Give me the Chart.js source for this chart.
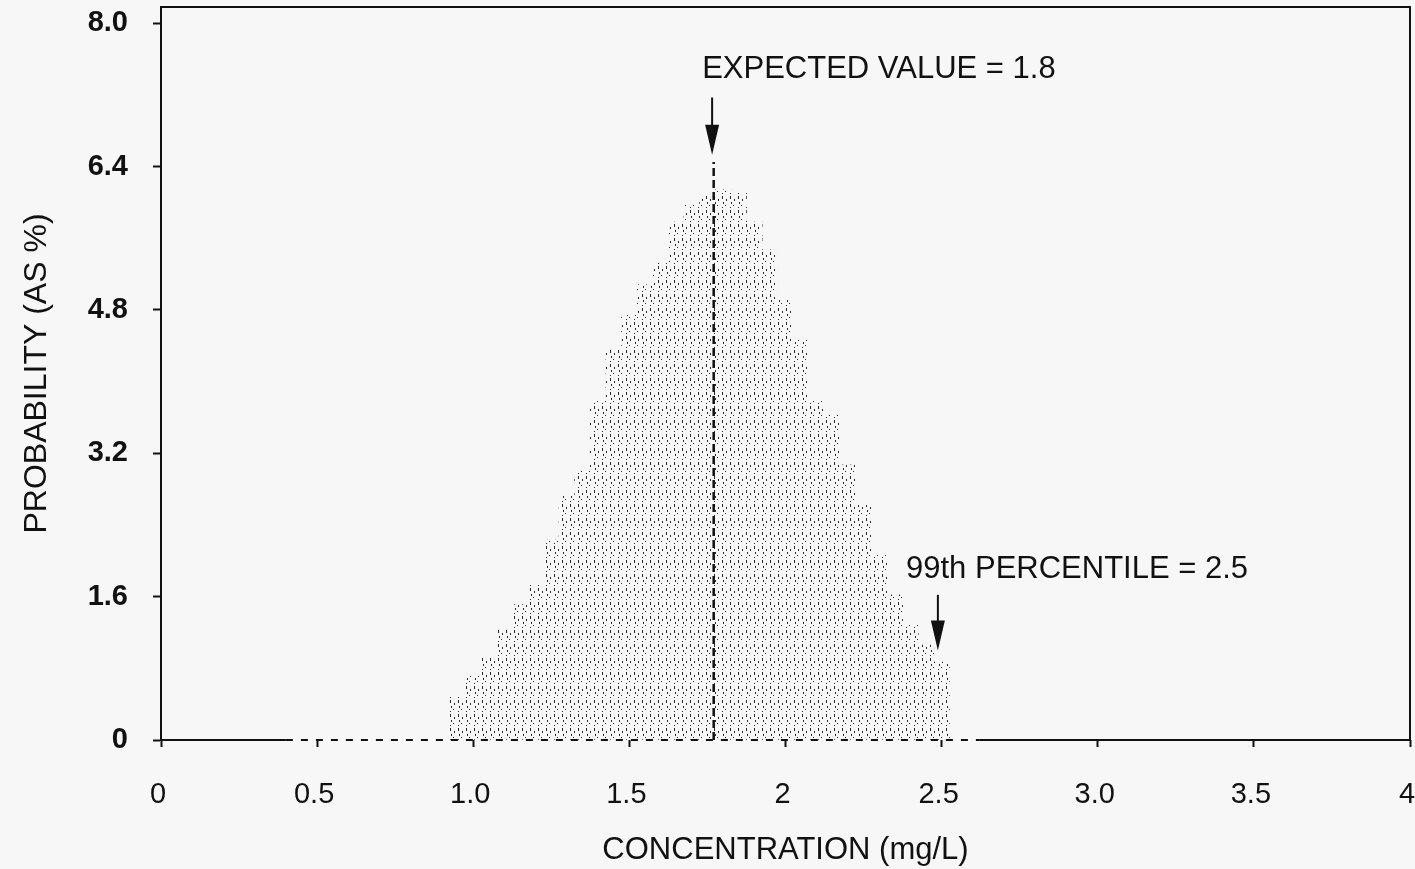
<!DOCTYPE html>
<html><head><meta charset="utf-8">
<script src="https://cdn.jsdelivr.net/npm/chart.js@4.4.1/dist/chart.umd.min.js"></script>
<style>html,body{margin:0;padding:0;background:#f7f7f7;overflow:hidden} #wrap{width:1415px;height:869px;position:relative} canvas{display:block}</style>
</head><body><div id="wrap"><canvas id="c" width="1415" height="869" style="width:1415px;height:869px"></canvas></div>
<script>
// ---- data ----
const concentration = [0.95,1.00,1.05,1.10,1.15,1.20,1.25,1.30,1.35,1.40,1.45,1.50,1.55,1.60,1.65,1.70,1.75,1.80,1.85,1.90,1.95,2.00,2.05,2.10,2.15,2.20,2.25,2.30,2.35,2.40,2.45,2.50];
const probability   = [0.48,0.71,0.92,1.23,1.51,1.73,2.23,2.73,3.01,3.79,4.35,4.74,5.08,5.33,5.78,5.97,6.08,6.14,6.10,5.78,5.47,4.91,4.46,3.79,3.63,3.07,2.62,2.06,1.62,1.28,1.06,0.87];
const yTicks = [0, 1.6, 3.2, 4.8, 6.4, 8.0];
const yTickLabels = ['0', '1.6', '3.2', '4.8', '6.4', '8.0'];
const xTicks = [0, 0.5, 1, 1.5, 2, 2.5, 3, 3.5, 4];
const xTickLabels = ['0', '0.5', '1.0', '1.5', '2', '2.5', '3.0', '3.5', '4'];
const expectedLineX = [1.77, 1.77];
const expectedLineY = [0, 6.45];
const baselineX = [0, 0.40, 2.62, 4];
const baselineY = [0, 0, 0, 0];
const expectedText = 'EXPECTED VALUE = 1.8';
const expectedTextPos = [1.733, 7.48];
const expectedArrow = [1.765, 7.17, 6.53];
const percentileText = '99th PERCENTILE = 2.5';
const percentileTextPos = [2.386, 1.90];
const percentileArrow = [2.488, 1.62, 1.00];

// speckle texture for the histogram columns
function makePattern() {
  const c = document.createElement('canvas');
  c.width = 8; c.height = 14;
  const g = c.getContext('2d');
  g.fillStyle = '#2a2a2a';
  g.fillRect(2, 0, 1, 3);
  g.fillRect(3, 6, 1, 2);
  g.fillRect(2, 11, 1, 1);
  g.fillRect(6, 3, 1, 2);
  g.fillRect(5, 9, 1, 1);
  return g.createPattern(c, 'repeat');
}

const FONT = '"Liberation Sans", Arial, Helvetica, sans-serif';

const annot = {
  id: 'annot',
  afterDatasetsDraw(chart) {
    const {ctx, chartArea: a, scales: {x, y}} = chart;
    ctx.save();
    ctx.strokeStyle = '#111';
    ctx.lineWidth = 2;
    ctx.beginPath();
    ctx.moveTo(a.left, a.top); ctx.lineTo(a.right, a.top); ctx.lineTo(a.right, a.bottom);
    ctx.stroke();
    function arrow(xv, y0, y1, hw, hh) {
      const px = x.getPixelForValue(xv), p0 = y.getPixelForValue(y0), p1 = y.getPixelForValue(y1);
      ctx.beginPath(); ctx.moveTo(px, p0); ctx.lineTo(px, p1 - hh + 2); ctx.stroke();
      ctx.beginPath(); ctx.moveTo(px - hw, p1 - hh); ctx.lineTo(px + hw, p1 - hh); ctx.lineTo(px, p1); ctx.closePath();
      ctx.fillStyle = '#111'; ctx.fill();
    }
    arrow(expectedArrow[0], expectedArrow[1], expectedArrow[2], 7, 30);
    arrow(percentileArrow[0], percentileArrow[1], percentileArrow[2], 7, 30);
    ctx.fillStyle = '#111';
    ctx.font = '31px ' + FONT;
    ctx.textBaseline = 'middle';
    ctx.textAlign = 'left';
    ctx.fillText(expectedText, x.getPixelForValue(expectedTextPos[0]), y.getPixelForValue(expectedTextPos[1]));
    ctx.fillText(percentileText, x.getPixelForValue(percentileTextPos[0]), y.getPixelForValue(percentileTextPos[1]));
    ctx.restore();
  }
};

new Chart(document.getElementById('c'), {
  type: 'bar',
  data: {
    datasets: [
      {
        type: 'bar',
        label: 'probability',
        data: concentration.map((c, i) => ({x: c, y: probability[i]})),
        backgroundColor: makePattern(),
        borderWidth: 0,
        barPercentage: 1,
        categoryPercentage: 1,
        order: 3
      },
      {
        type: 'line',
        label: 'expected',
        data: expectedLineX.map((v, i) => ({x: v, y: expectedLineY[i]})),
        borderColor: '#111', borderWidth: 2.5, borderDash: [8, 4],
        pointRadius: 0, order: 2
      },
      {
        type: 'line',
        label: 'baseline',
        data: baselineX.map((v, i) => ({x: v, y: baselineY[i]})),
        borderColor: '#111', borderWidth: 2, pointRadius: 0, clip: false, order: 1,
        segment: { borderDash: ctx => ctx.p0DataIndex === 1 ? [7, 8] : undefined }
      }
    ]
  },
  options: {
    responsive: false,
    animation: false,
    devicePixelRatio: 1,
    layout: { padding: { top: 7, right: 5, left: 0, bottom: 0 } },
    plugins: { legend: { display: false }, tooltip: { enabled: false } },
    scales: {
      x: {
        type: 'linear', min: 0, max: 4, offset: false,
        afterFit: s => { s.height = 129; s.paddingLeft = 0; s.paddingRight = 0; },
        afterBuildTicks: s => { s.ticks = xTicks.map(v => ({value: v})); },
        ticks: {
          callback: (v) => xTickLabels[xTicks.indexOf(v)],
          color: '#111', font: { family: FONT, size: 29 }, padding: 31, maxRotation: 0, autoSkip: false, labelOffset: -3
        },
        grid: { display: true, offset: false, drawOnChartArea: false, drawTicks: true, tickLength: 7, tickColor: '#111', tickWidth: 2 },
        border: { display: false },
        title: { display: true, text: 'CONCENTRATION (mg/L)', color: '#111', font: { family: FONT, size: 31 }, padding: { top: 0, bottom: 0 } }
      },
      y: {
        type: 'linear', min: 0, max: 8.18,
        afterFit: s => { s.width = 161; s.paddingTop = 0; s.paddingBottom = 0; },
        afterBuildTicks: s => { s.ticks = yTicks.map(v => ({value: v})); },
        ticks: {
          callback: (v) => yTickLabels[yTicks.indexOf(v)],
          color: '#111', font: { family: FONT, size: 29, weight: 'bold' }, padding: 25, autoSkip: false
        },
        grid: { display: true, drawOnChartArea: false, drawTicks: true, tickLength: 8, tickColor: '#111', tickWidth: 2 },
        border: { display: true, color: '#111', width: 2 },
        title: { display: true, text: 'PROBABILITY (AS %)', color: '#111', font: { family: FONT, size: 32 }, padding: { top: 18, bottom: 0 } }
      }
    }
  },
  plugins: [annot]
});
</script>
</body></html>
